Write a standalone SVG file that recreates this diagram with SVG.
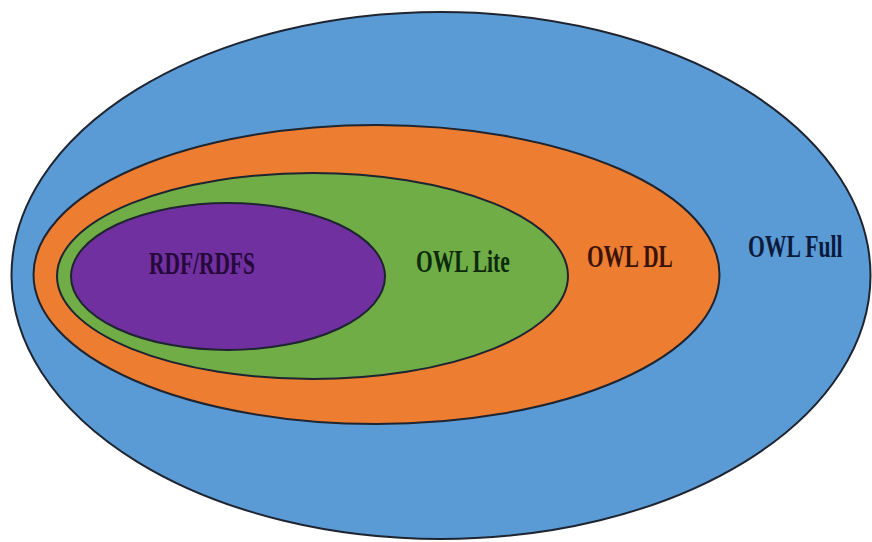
<svg xmlns="http://www.w3.org/2000/svg" width="872" height="542" viewBox="0 0 872 542">
  <style>
    .set { stroke: #1e2430; stroke-width: 2; }
    .label { font-family: "Liberation Serif", "Times New Roman", serif; font-weight: bold; font-size: 32px; }
  </style>
  <rect width="872" height="542" fill="#ffffff"/>
  <!-- nested language sets, outermost first; labels use a condensed bold serif -->
  <g id="owl-full">
    <ellipse class="set" cx="441" cy="275.5" rx="429.5" ry="263.5" fill="#5b9bd5" stroke-width="1.6"/>
    <text class="label" transform="translate(748 257) scale(0.67 1)" x="0" y="0" textLength="141" lengthAdjust="spacingAndGlyphs" fill="#0c1a3c">OWL Full</text>
  </g>
  <g id="owl-dl">
    <ellipse class="set" cx="376.5" cy="274.5" rx="343" ry="149.5" fill="#ed7d31"/>
    <text class="label" transform="translate(587 267) scale(0.67 1)" x="0" y="0" textLength="128" lengthAdjust="spacingAndGlyphs" fill="#3a1206">OWL DL</text>
  </g>
  <g id="owl-lite">
    <ellipse class="set" cx="312.5" cy="276" rx="255.5" ry="103" fill="#70ad47"/>
    <text class="label" transform="translate(416 272) scale(0.67 1)" x="0" y="0" textLength="140" lengthAdjust="spacingAndGlyphs" fill="#0c2a0c">OWL Lite</text>
  </g>
  <g id="rdf-rdfs">
    <ellipse class="set" cx="228" cy="276.5" rx="157" ry="73.5" fill="#7030a0"/>
    <text class="label" transform="translate(149 274) scale(0.67 1)" x="0" y="0" textLength="158" lengthAdjust="spacingAndGlyphs" fill="#26093a">RDF/RDFS</text>
  </g>
  <g id="connectors"/>
</svg>
